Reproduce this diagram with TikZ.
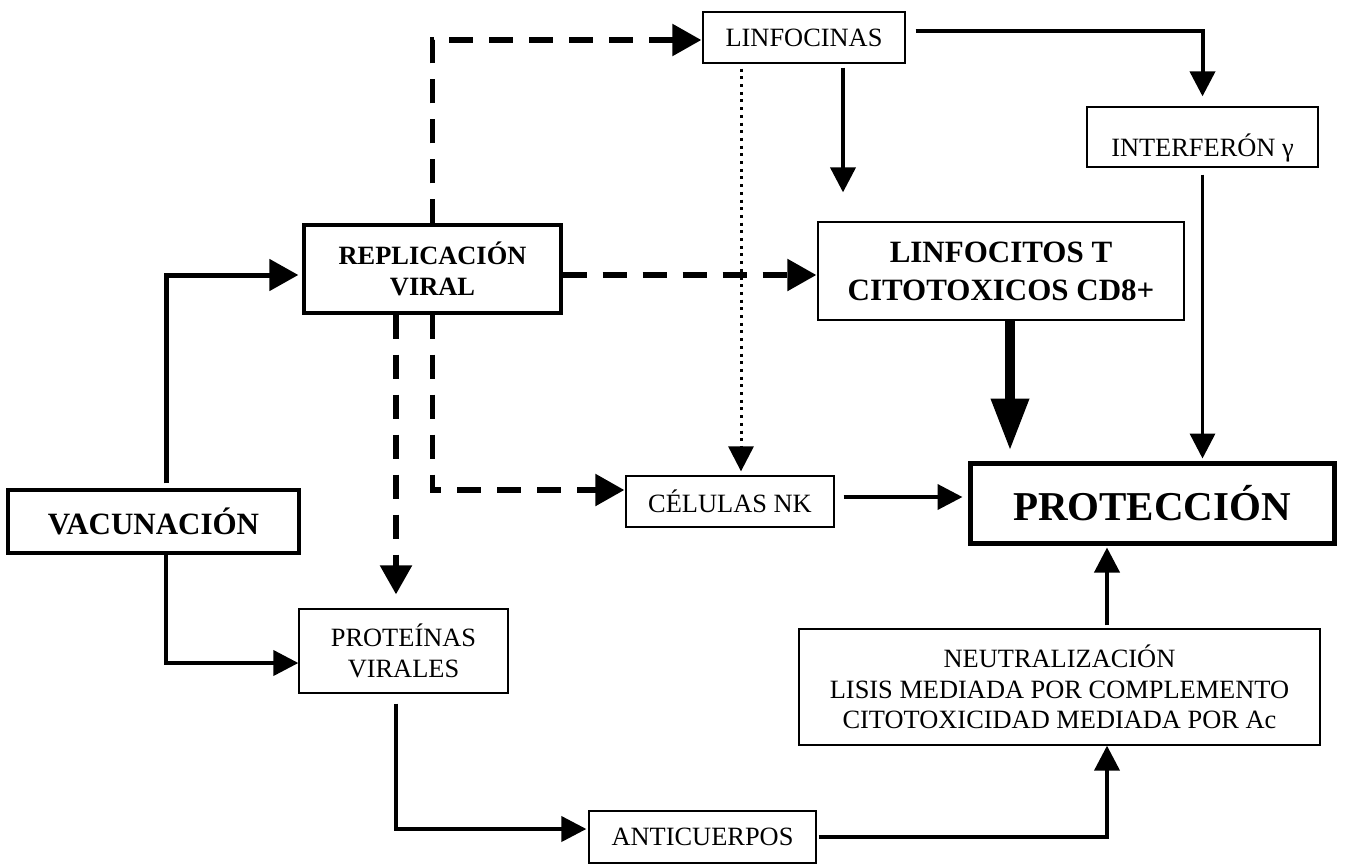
\documentclass[tikz,border=0pt]{standalone}
\usepackage{fontspec}
\usepackage{tikz}
\setmainfont{Liberation Serif}
\usetikzlibrary{arrows.meta}
\newcommand{\txtnorm}{\fontsize{26.4}{30.5}\selectfont}
\newcommand{\txtrep}{\fontsize{26.4}{31.5}\selectfont\bfseries}
\newcommand{\txtbig}{\fontsize{31}{38}\selectfont\bfseries}
\newcommand{\txthuge}{\fontsize{41}{46}\selectfont\bfseries}
\tikzset{box/.style = {draw, line width = 1.3, inner sep = 0, align = center, font = \txtnorm}}
\tikzset{boldbox/.style = {box, line width = 3.3, font = \txtrep}}
\tikzset{tip/.style = {-{Triangle[length=25pt, width=25pt]}}}
\tikzset{bigtip/.style = {-{Triangle[length=29pt, width=31pt]}}}
\tikzset{hugetip/.style = {-{Triangle[length=52pt, width=36pt]}}}
\tikzset{link/.style = {line width = 4, tip}}
\tikzset{dashlink/.style = {line width = 5.5, dash pattern = on 24pt off 16pt, bigtip}}
\tikzset{dotlink/.style = {line width = 3, dash pattern = on 3pt off 4.7pt, tip}}

\begin{document}
\begin{tikzpicture}[x=1pt, y=-1pt]
      \useasboundingbox (0, 0) rectangle (1348, 865);

      \node [box, minimum width = 202, minimum height = 51] (linfocinas) at (804, 37.5) {LINFOCINAS};
      \node [box, minimum width = 231, minimum height = 60] (interferon) at (1202.5, 137) {\raisebox{-19pt}[0pt][0pt]{INTERFERÓN γ}};
      \node [boldbox, minimum width = 257, minimum height = 88] (replicacion) at (432.5, 269) {REPLICACIÓN\\VIRAL};
      \node [box, font = \txtbig, minimum width = 366, minimum height = 98] (linfocitos) at (1001, 271) {LINFOCITOS T\\CITOTOXICOS CD8+};
      \node [boldbox, font = \txtbig, minimum width = 291, minimum height = 63] (vacunacion) at (153.5, 521.5) {VACUNACIÓN};
      \node [box, minimum width = 208, minimum height = 51] (celulas) at (730, 501.5) {CÉLULAS NK};
      \node [box, line width = 5, font = \txthuge, minimum width = 364, minimum height = 80] (proteccion) at (1152, 503) {PROTECCIÓN};
      \node [box, minimum width = 209, minimum height = 84] (proteinas) at (403.5, 651) {PROTEÍNAS\\VIRALES};
      \node [box, minimum width = 521, minimum height = 116] (neutral) at (1059.5, 687) {NEUTRALIZACIÓN\\LISIS MEDIADA POR COMPLEMENTO\\CITOTOXICIDAD MEDIADA POR Ac};
      \node [box, minimum width = 227, minimum height = 52] (anticuerpos) at (702.5, 837) {ANTICUERPOS};

      \draw [line width = 5, bigtip, shorten > = 4pt] ([xshift=12.5pt, yshift=5pt]vacunacion.north) |- ([yshift=-6pt]replicacion.west);
      \draw [link] ([xshift=12.5pt]vacunacion.south) |- ([yshift=-12pt]proteinas.west);

      \draw [dashlink, shorten > = 1pt] (replicacion.north) |- ([yshift=-2.5pt]linfocinas.west);
      \draw [dashlink, shorten > = 1pt] ([yshift=-6pt]replicacion.east) -- ([yshift=-4pt]linfocitos.west);
      \draw [dashlink] ([xshift=-36.5pt]replicacion.south) -- ([xshift=-7.5pt, yshift=14pt]proteinas.north);
      \draw [dashlink, shorten > = 1pt] (replicacion.south) |- ([yshift=11.5pt]celulas.west);

      \draw [link, shorten < = 10pt, shorten > = 10pt] ([yshift=6.5pt]linfocinas.east) -| (interferon.north);
      \draw [link, shorten < = 4pt, shorten > = 29pt] ([xshift=39pt]linfocinas.south) -- ([xshift=39pt]linfocinas.south |- linfocitos.north);
      \draw [dotlink, shorten < = 5pt, shorten > = 4pt] ([xshift=-63pt]linfocinas.south) -- ([xshift=-63pt]linfocinas.south |- celulas.north);
      \draw [link, line width = 3.5, shorten < = 7pt, shorten > = 2pt] (interferon.south) -- (interferon.south |- proteccion.north);
      \draw [line width = 10, hugetip, shorten > = 10pt] ([xshift=9pt]linfocitos.south) -- ([xshift=9pt]linfocitos.south |- proteccion.north);
      \draw [link, shorten < = 9pt, shorten > = 5pt] ([yshift=4.5pt]celulas.east) -- ([yshift=4.5pt]celulas.east -| proteccion.west);

      \draw [link, shorten < = 10pt, shorten > = 2pt] ([xshift=-7.5pt]proteinas.south) |- ([yshift=8pt]anticuerpos.west);
      \draw [link, shorten < = 2pt] (anticuerpos.east) -| ([xshift=47.5pt]neutral.south);
      \draw [link, shorten < = 3pt, shorten > = 2pt] ([xshift=47.5pt]neutral.north) -- ([xshift=47.5pt]neutral.north |- proteccion.south);
    \end{tikzpicture}
\end{document}
